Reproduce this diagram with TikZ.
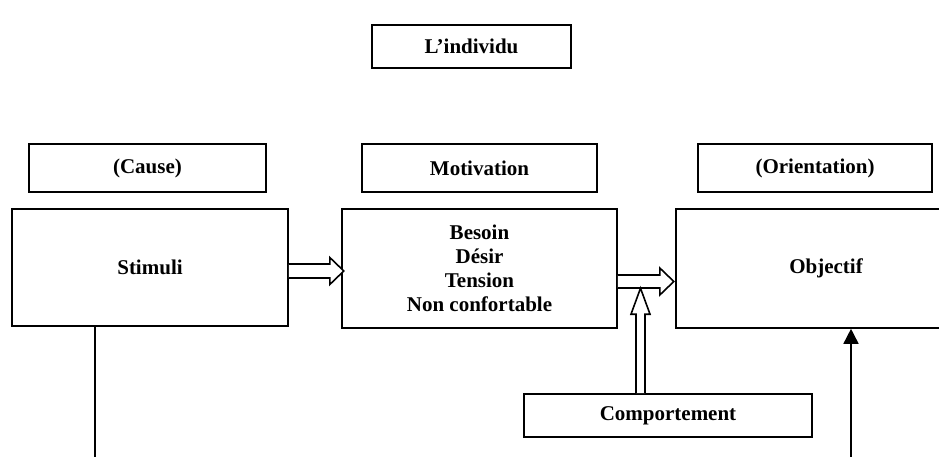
\documentclass[tikz,border=0pt]{standalone}
\usepackage{fontspec}
\setmainfont{Liberation Serif}
\usetikzlibrary{calc,arrows.meta}

\begin{document}
\begin{tikzpicture}[x=1pt,y=-1pt,
   every node/.style={font=\fontsize{21}{24}\selectfont\bfseries},
   box/.style={draw,line width=1.6pt,inner sep=0pt,align=center},
   hollow/.style={draw,line width=1.6pt,fill=white,line join=miter},
   plain/.style={line width=1.6pt}]

\clip (0,0) rectangle (939,457);

% en-tetes
\node[box,minimum width=199pt,minimum height=43pt] (ind) at (471.5,46.5) {L’individu};
\node[box,minimum width=237pt,minimum height=48pt] (cause) at (147.5,168) {(Cause)};
\node[box,minimum width=235pt,minimum height=48pt] (motiv) at (479.5,168) {Motivation};
\node[box,minimum width=234pt,minimum height=48pt] (orient) at (815,168) {(Orientation)};

% grandes boites
\node[box,minimum width=276pt,minimum height=117pt] (stim) at (150,267.5) {Stimuli};
\node[box,minimum width=275pt,minimum height=119pt] (besoin) at (479.5,268.5)
   {Besoin\\Désir\\Tension\\Non confortable};
\node[box,minimum width=300pt,minimum height=119pt] (obj) at (826,268.5) {Objectif};
\node[box,minimum width=288pt,minimum height=43pt] (comp) at (668,415.5) {Comportement};

% fleches creuses
\draw[hollow] ($(stim.east)+(0,-3.5)$) -- ++(41,0) -- ++(0,-6.5) -- ++(14,13.5)
   -- ++(-14,13.5) -- ++(0,-6.5) -- ++(-41,0);
\draw[hollow] ($(besoin.east)+(0,6.5)$) -- ++(42,0) -- ++(0,-7) -- ++(14,13.5)
   -- ++(-14,13.5) -- ++(0,-7) -- ++(-42,0);
\draw[hollow] ($(comp.north)+(-32,0)$) -- ++(0,-79) -- ++(-5,0) -- ++(9.5,-26)
   -- ++(9.5,26) -- ++(-5,0) -- ++(0,79);

% traits du bas
\coordinate (stimend) at (95,457);
\coordinate (objstart) at (851,457);
\draw[plain] (stimend |- stim.south) -- (stimend);
\draw[plain,-{Triangle[width=15pt,length=15pt]}] (objstart) -- (objstart |- obj.south);

\end{tikzpicture}
\end{document}
